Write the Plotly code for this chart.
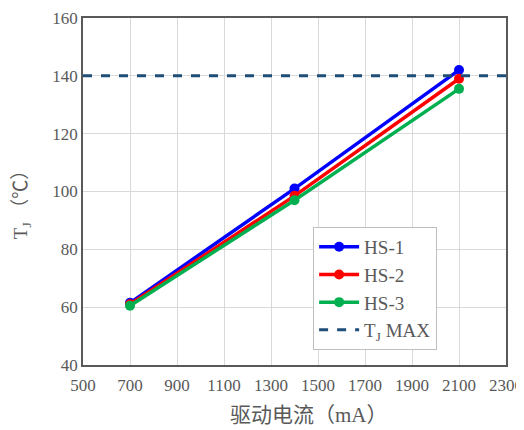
import plotly.graph_objects as go

current_ma = [700, 1400, 2100]
hs1 = [61.5, 101.0, 142.0]
hs2 = [61.0, 98.5, 139.0]
hs3 = [60.5, 97.0, 135.5]
tj_max_x = [500, 2300]
tj_max_y = [140, 140]
x_ticks = [500, 700, 900, 1100, 1300, 1500, 1700, 1900, 2100, 2300]
y_ticks = [40, 60, 80, 100, 120, 140, 160]
x_title = "驱动电流（mA）"
y_title = "T<sub>J</sub> （℃）"

FONT = "Liberation Serif"
CJK = "Liberation Serif, Noto Sans CJK SC"
GRAY = "#595959"

fig = go.Figure()
for name, vals, col in [("HS-1", hs1, "#0000FF"), ("HS-2", hs2, "#FF0000"), ("HS-3", hs3, "#00B050")]:
    fig.add_trace(go.Scatter(x=current_ma, y=vals, name=name, mode="lines+markers",
                             line=dict(color=col, width=3.5),
                             marker=dict(color=col, size=10)))
fig.add_trace(go.Scatter(x=tj_max_x, y=tj_max_y, name="T<sub>J</sub> MAX", mode="lines",
                         line=dict(color="#1F4E79", width=3, dash="dash")))

fig.update_layout(
    width=516, height=422,
    margin=dict(l=75, r=18, t=10, b=65, autoexpand=False),
    paper_bgcolor="white", plot_bgcolor="white",
    font=dict(family=FONT, size=17, color=GRAY),
    showlegend=True,
    legend=dict(x=0.544, y=0.398, xanchor="left", yanchor="top",
                bordercolor="#BFBFBF", borderwidth=1, bgcolor="white",
                font=dict(family=FONT, size=19, color=GRAY), tracegroupgap=6,
                itemwidth=40),
    xaxis=dict(range=[500, 2300], tickvals=x_ticks, showgrid=True, gridcolor="#D9D9D9",
               showline=True, linecolor=GRAY, linewidth=1.5, mirror=True, ticks="",
               zeroline=False, automargin=False, ticklabelstandoff=4,
               tickfont=dict(family=FONT, size=17, color=GRAY)),
    yaxis=dict(range=[40, 160], tickvals=y_ticks, showgrid=True, gridcolor="#D9D9D9",
               showline=True, linecolor=GRAY, linewidth=1.5, mirror=True, ticks="",
               zeroline=False, automargin=False,
               tickfont=dict(family=FONT, size=17, color=GRAY)),
    annotations=[
        dict(text=x_title, xref="paper", yref="paper", x=0.534, y=0, yshift=-50,
             xanchor="center", yanchor="middle", showarrow=False,
             font=dict(family=CJK, size=21, color=GRAY)),
        dict(text=y_title, xref="paper", yref="paper", x=0, xshift=-61, y=0.475,
             xanchor="center", yanchor="middle", textangle=-90, showarrow=False,
             font=dict(family=CJK, size=19, color=GRAY)),
    ],
)
fig.write_html("out.html")
